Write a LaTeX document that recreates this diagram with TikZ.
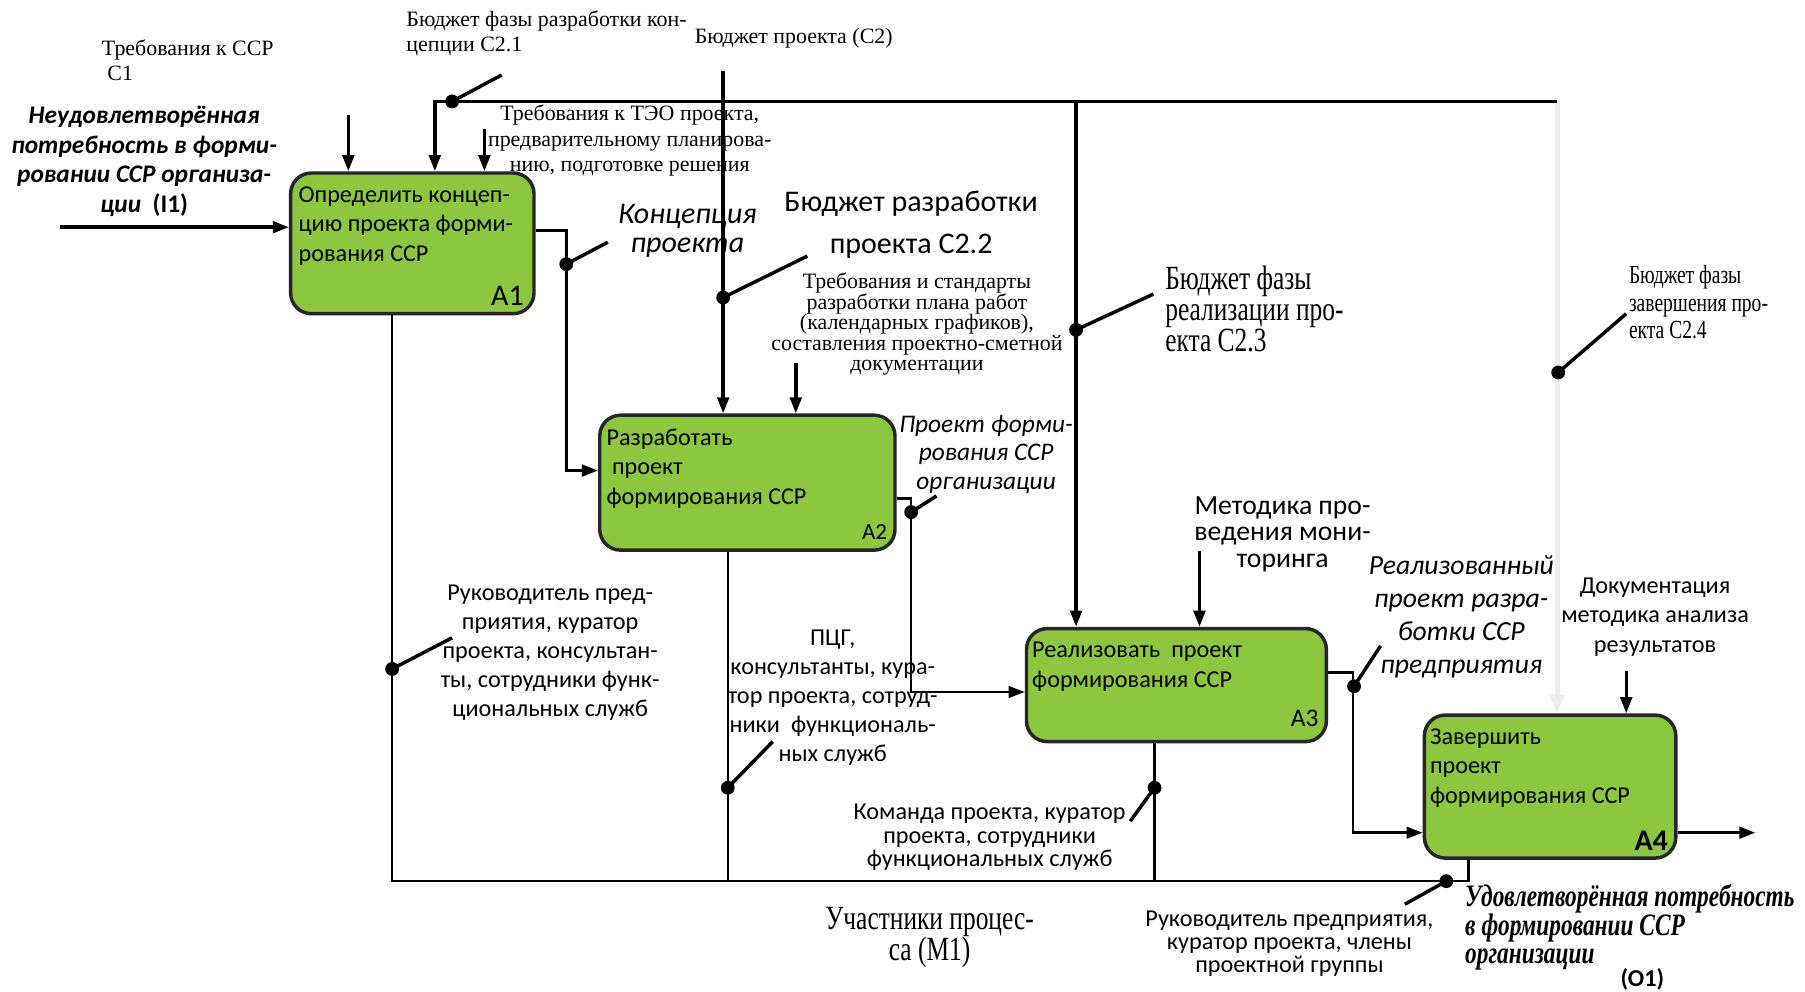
\documentclass[tikz,border=0pt]{standalone}
\usepackage{fontspec}
\setmainfont{Liberation Serif}
\setsansfont{Carlito}
\newfontfamily\narrowserif[FakeStretch=0.75]{Liberation Serif}
\usetikzlibrary{calc, positioning, arrows.meta}

\definecolor{boxgreen}{RGB}{141,198,63}
\definecolor{paleline}{RGB}{236,236,236}
\newcommand{\fs}[2]{\fontsize{#1}{#2}\selectfont}

\begin{document}
\begin{tikzpicture}[
    x=0.5pt, y=-0.5pt,
    >={Triangle[length=7pt,width=5pt]},
    flow/.style={line width=1.5pt},
    mech/.style={line width=1.1pt},
    lead/.style={line width=1.5pt},
    box/.style={draw=black!85, line width=1.5pt, fill=boxgreen, rounded corners=9pt, inner sep=0pt},
    boxtxt/.style={font=\sffamily\fs{10.5}{12.75}, align=left, inner sep=0pt},
    code/.style={font=\sffamily\fs{11}{12}, inner sep=0pt},
    dot/.style={circle, fill=black, inner sep=0pt, minimum size=6pt},
    sertxt/.style={font=\fs{9.5}{11}, align=center, inner sep=0pt},
    bigser/.style={font=\narrowserif\fs{14.7}{13.5}, align=left, inner sep=0pt},
    santxt/.style={font=\sffamily\fs{10.5}{12.5}, align=center, inner sep=0pt},
    itstxt/.style={font=\sffamily\itshape\fs{11}{12.5}, align=center, inner sep=0pt}
]
    \useasboundingbox (0,0) rectangle (1565,860);

    % Function blocks
    \node[box, minimum width=105.5pt, minimum height=61pt] (a1) at (357.5,211) {};
    \node[box, minimum width=128pt, minimum height=58.5pt] (a2) at (648,418.5) {};
    \node[box, minimum width=130pt, minimum height=49pt] (a3) at (1020,594) {};
    \node[box, minimum width=109pt, minimum height=62pt] (a4) at (1344,682) {};

    \node[boxtxt, below right=6.5pt and 4pt of a1.north west] (a1txt) {Определить концеп-\\цию проекта форми-\\рования ССР};
    \node[boxtxt, below right=6.5pt and 3.5pt of a2.north west] (a2txt) {Разработать\\\ проект\\формирования ССР};
    \node[boxtxt, below right=6.5pt and 3pt of a3.north west] (a3txt) {Реализовать\ \ проект\\формирования ССР};
    \node[boxtxt, below right=6.5pt and 3pt of a4.north west] (a4txt) {Завершить\\проект\\формирования ССР};

    \node[code, font=\sffamily\fs{13}{14}, above left=4pt and 5pt of a1.south east] (a1code) {A1};
    \node[code, font=\sffamily\fs{10}{12}, above left=5pt and 4pt of a2.south east] (a2code) {A2};
    \node[code, above left=7pt and 4pt of a3.south east] (a3code) {A3};
    \node[code, font=\sffamily\bfseries\fs{13}{14}, above left=4pt and 4pt of a4.south east] (a4code) {A4};

    % Input
    \coordinate (i1) at (52,197);
    \draw[flow, ->] (i1) -- (i1 -| a1.west);
    \node[font=\sffamily\bfseries\itshape\fs{11}{12.8}, align=center, inner sep=0pt] (lblI1) at (125,140) {Неудовлетворённая\\потребность в форми-\\ровании ССР организа-\\ции\ \ \upshape(I1)};

    % Controls
    \coordinate (c1) at (302,100);
    \coordinate (cl) at (377,88);
    \coordinate (cr) at (1350,88);
    \coordinate (teo) at (420,112);
    \coordinate (c2) at (627,62);
    \coordinate (c22) at (690,315);
    \coordinate (c23) at (933,88);
    \coordinate (c3) at (1040,478);
    \coordinate (c4) at (1410,582);

    \draw[paleline, line width=2.2pt, -{Triangle[length=8pt,width=6pt]}] (cr) -- (cr |- a4.north);
    \draw[flow, ->] (c1) -- (c1 |- a1.north);
    \draw[flow, ->] (cr) -- (cl) -- (cl |- a1.north);
    \draw[flow, ->] (teo) -- (teo |- a1.north);
    \draw[flow, ->] (c2) -- (c2 |- a2.north);
    \draw[flow, ->] (c22) -- (c22 |- a2.north);
    \draw[flow, ->] (c23) -- (c23 |- a3.north);
    \draw[flow, ->] (c3) -- (c3 |- a3.north);
    \draw[flow, ->] (c4) -- (c4 |- a4.north);

    \node[sertxt, align=left, anchor=west] (lblC1) at (88,52) {Требования к ССР\\\ C1};
    \node[sertxt, align=left, anchor=west] (lblC21) at (352,29) {Бюджет фазы разработки кон-\\цепции С2.1};
    \node[sertxt, anchor=west] (lblC2) at (602,33) {Бюджет проекта (С2)};
    \node[sertxt] (lblTEO) at (546,122) {Требования к ТЭО проекта,\\предварительному планирова-\\нию, подготовке решения};
    \node[font=\sffamily\fs{13}{18}, align=center, inner sep=0pt] (lblC22) at (790,195) {Бюджет разработки\\проекта С2.2};
    \node[sertxt, font=\fs{9.5}{8.9}] (lblStd) at (795,281) {Требования и стандарты\\разработки плана работ\\(календарных графиков),\\составления проектно-сметной\\документации};
    \node[bigser, anchor=west] (lblC23) at (1010,268) {Бюджет фазы\\реализации про-\\екта С2.3};
    \node[bigser, font=\narrowserif\fs{11.3}{12}, anchor=west] (lblC24) at (1412,262) {Бюджет фазы\\завершения про-\\екта С2.4};
    \node[santxt, font=\sffamily\fs{12}{11.5}] (lblMon) at (1112,463) {Методика про-\\ведения мони-\\торинга};
    \node[santxt, font=\sffamily\fs{10.5}{12.75}] (lblDoc) at (1435,535) {Документация\\методика анализа\\результатов};

    \node[dot] (dC21) at (392,88) {};
    \coordinate (eC21) at (435,65);
    \draw[lead] (dC21.center) -- (eC21);
    \node[dot] (dC22) at (627,258) {};
    \coordinate (eC22) at (700,222);
    \draw[lead] (dC22.center) -- (eC22);
    \node[dot] (dC23) at (933,286) {};
    \coordinate (eC23) at (1000,255);
    \draw[lead] (dC23.center) -- (eC23);
    \node[dot] (dC24) at (1351,323) {};
    \coordinate (eC24) at (1410,272);
    \draw[lead] (dC24.center) -- (eC24);

    % Outputs
    \coordinate (o1a) at (491,200);
    \coordinate (o1b) at (491,408);
    \draw[flow, ->] (o1a -| a1.east) -- (o1a) -- (o1b) -- (o1b -| a2.west);
    \node[dot] (dO1) at (491,229) {};
    \coordinate (eO1) at (527,210);
    \draw[lead] (dO1.center) -- (eO1);
    \node[itstxt, font=\sffamily\itshape\fs{13}{12.5}] (lblO1) at (596,200) {Концепция\\проекта};

    \coordinate (o2a) at (790,432);
    \coordinate (o2b) at (790,600);
    \draw[mech, ->] (o2a -| a2.east) -- (o2a) -- (o2b) -- (o2b -| a3.west);
    \node[dot] (dO2) at (790,444) {};
    \coordinate (eO2) at (812,430);
    \draw[lead] (dO2.center) -- (eO2);
    \node[itstxt] (lblO2) at (855,394) {Проект форми-\\рования ССР\\организации};

    \coordinate (o3a) at (1173,583);
    \coordinate (o3b) at (1173,722);
    \draw[mech, ->] (o3a -| a3.east) -- (o3a) -- (o3b) -- (o3b -| a4.west);
    \node[dot] (dO3) at (1174,595) {};
    \coordinate (eO3) at (1197,560);
    \draw[lead] (dO3.center) -- (eO3);
    \node[itstxt, font=\sffamily\itshape\fs{12}{14.3}] (lblO3) at (1267,535) {Реализованный\\проект разра-\\ботки ССР\\предприятия};

    \coordinate (o4) at (1522,722);
    \draw[flow, ->] (o4 -| a4.east) -- (o4);
    \node[font=\narrowserif\bfseries\itshape\fs{13.5}{12.25}, align=left, inner sep=0pt, anchor=west] (lblO4) at (1270,804) {Удовлетворённая потребность\\в формировании ССР\\организации};
    \node[font=\sffamily\bfseries\fs{10.5}{12}, inner sep=0pt] (lblO4b) at (1424,849) {(O1)};

    % Mechanisms
    \coordinate (m1) at (340,764);
    \coordinate (m2) at (631,764);
    \coordinate (m3) at (1001,764);
    \coordinate (m4) at (1273,764);
    \draw[mech] (m1 |- a1.south) -- (m1) -- (m4) -- (m4 |- a4.south);
    \draw[mech] (m2 |- a2.south) -- (m2);
    \draw[mech] (m3 |- a3.south) -- (m3);

    \node[dot] (dM1) at (340,580) {};
    \coordinate (eM1) at (392,553);
    \draw[lead] (dM1.center) -- (eM1);
    \node[dot] (dM2) at (631,683) {};
    \coordinate (eM2) at (670,643);
    \draw[lead] (dM2.center) -- (eM2);
    \node[dot] (dM3) at (1001,683) {};
    \coordinate (eM3) at (980,712);
    \draw[lead] (dM3.center) -- (eM3);
    \node[dot] (dM4) at (1254,764) {};
    \coordinate (eM4) at (1218,784);
    \draw[lead] (dM4.center) -- (eM4);

    \node[santxt] (lblM1) at (477,566) {Руководитель пред-\\приятия, куратор\\проекта, консультан-\\ты, сотрудники функ-\\циональных служб};
    \node[santxt] (lblM2) at (722,605) {ПЦГ,\\консультанты, кура-\\тор проекта, сотруд-\\ники\ \ функциональ-\\ных служб};
    \node[santxt, font=\sffamily\fs{10.5}{10.25}] (lblM3) at (858,726) {Команда проекта, куратор\\проекта, сотрудники\\функциональных служб};
    \node[santxt, font=\sffamily\fs{10.5}{10}] (lblM4) at (1118,818) {Руководитель предприятия,\\куратор проекта, члены\\проектной группы};
    \node[bigser, align=center] (lblM) at (806,813) {Участники процес-\\са (М1)};

\end{tikzpicture}
\end{document}
